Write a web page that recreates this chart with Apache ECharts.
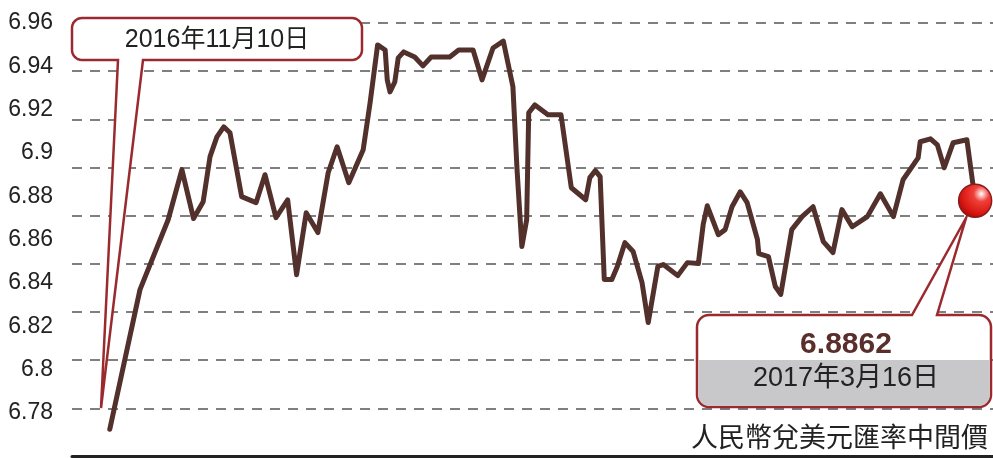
<!DOCTYPE html>
<html>
<head>
<meta charset="utf-8">
<script src="https://cdn.jsdelivr.net/npm/echarts@6/dist/echarts.min.js"></script>
<style>
  html, body { margin: 0; padding: 0; background: #fff; }
  #main { width: 993px; height: 458px; }
</style>
</head>
<body>
<div id="main"></div>
<script>
// 人民幣兌美元匯率中間價，2016-11-10 ~ 2017-03-16
// dayOffset: 距 2016-11-10 的日數
const dayOffset = [
  0, 4.4, 8.5, 10.5, 12.2, 13.6, 14.6, 15.6, 16.6, 17.5,
  19.2, 21.3, 22.6, 24.2, 25.9, 27.2, 28.6, 30.3, 31.8, 33.1,
  34.8, 36.9, 37.9, 39.0, 40.1, 40.4, 40.8, 41.5, 42.0, 42.8,
  44.4, 45.6, 46.8, 49.5, 50.8, 52.9, 54.2, 55.8, 57.3, 58.7,
  59.3, 60.0, 60.7, 61.0, 61.9, 63.8, 65.7, 67.2, 69.3, 69.9,
  70.7, 71.4, 72.0, 73.1, 73.9, 75.0, 76.2, 77.5, 78.4, 79.8,
  80.6, 82.7, 84.1, 85.7, 86.4, 87.0, 88.6, 89.6, 90.6, 91.8,
  92.8, 94.3, 94.5, 95.9, 96.9, 97.7, 99.3, 100.8, 102.4, 103.9,
  105.3, 106.6, 108.1, 110.3, 112.2, 114.1, 115.5, 117.7, 118.0, 119.5,
  120.5, 121.5, 122.8, 124.8, 126
];
const rates = [
  6.7913, 6.8493, 6.8783, 6.8991, 6.8788, 6.8858, 6.9045, 6.9127, 6.9169, 6.9144,
  6.8879, 6.8854, 6.8970, 6.8792, 6.8866, 6.8555, 6.8812, 6.8730, 6.8978, 6.9086,
  6.8937, 6.9074, 6.9268, 6.9509, 6.9488, 6.9364, 6.9314, 6.9355, 6.9455, 6.9480,
  6.9459, 6.9422, 6.9459, 6.9459, 6.9488, 6.9488, 6.9364, 6.9496, 6.9525, 6.9335,
  6.8991, 6.8672, 6.8783, 6.9227, 6.9260, 6.9219, 6.9219, 6.8916, 6.8866, 6.8958,
  6.8987, 6.8962, 6.8535, 6.8535, 6.8589, 6.8688, 6.8651, 6.8522, 6.8356, 6.8589,
  6.8597, 6.8551, 6.8605, 6.8601, 6.8763, 6.8841, 6.8721, 6.8742, 6.8837, 6.8899,
  6.8854, 6.8701, 6.8642, 6.8630, 6.8506, 6.8473, 6.8742, 6.8796, 6.8837, 6.8692,
  6.8647, 6.8825, 6.8754, 6.8796, 6.8891, 6.8796, 6.8949, 6.9040, 6.9107, 6.9119,
  6.9094, 6.8999, 6.9103, 6.9115, 6.8862
];
// 左側刻度文字（原圖刻度文字與格線間距不同）
const tickLabels = ['6.78', '6.8', '6.82', '6.84', '6.86', '6.88', '6.9', '6.92', '6.94', '6.96'];
const startLabel = '2016年11月10日';
const endLabel = '2017年3月16日';
const endValue = '6.8862';
const title = '人民幣兌美元匯率中間價';

const lineData = dayOffset.map(function (d, i) { return [d, rates[i]]; });
const last = lineData[lineData.length - 1];

// 圓角框 + 尖角，回傳多邊形頂點
function arc(cx, cy, r, a0, a1) {
  const pts = [];
  for (let k = 0; k <= 8; k++) {
    const a = (a0 + (a1 - a0) * k / 8) * Math.PI / 180;
    pts.push([cx + r * Math.cos(a), cy + r * Math.sin(a)]);
  }
  return pts;
}
function callout(x0, y0, x1, y1, r, tailTop, tailBottom) {
  let pts = [];
  pts.push([x0 + r, y0]);
  if (tailTop) pts = pts.concat(tailTop);
  pts = pts.concat(arc(x1 - r, y0 + r, r, -90, 0));
  pts = pts.concat(arc(x1 - r, y1 - r, r, 0, 90));
  if (tailBottom) pts = pts.concat(tailBottom);
  pts = pts.concat(arc(x0 + r, y1 - r, r, 90, 180));
  pts = pts.concat(arc(x0 + r, y0 + r, r, 180, 270));
  return pts;
}
function bottomPart(x0, yTop, x1, y1, r) {
  let pts = [[x0, yTop], [x1, yTop]];
  pts = pts.concat(arc(x1 - r, y1 - r, r, 0, 90));
  pts = pts.concat(arc(x0 + r, y1 - r, r, 90, 180));
  return pts;
}

const RED = '#9b2a2e';
const chart = echarts.init(document.getElementById('main'));

const option = {
  animation: false,
  grid: { left: 72, right: 0, top: 23, bottom: 1.5 },
  xAxis: {
    type: 'value',
    min: -5.5,
    max: 128.6,
    axisLine: { show: true, lineStyle: { color: '#222', width: 3 } },
    axisTick: { show: false },
    axisLabel: { show: false },
    splitLine: { show: false }
  },
  yAxis: [
    {
      // 真正的數值尺度與格線
      type: 'value',
      min: 6.78,
      max: 6.96,
      interval: 0.02,
      axisLine: { show: false },
      axisTick: { show: false },
      axisLabel: { show: false },
      splitLine: { lineStyle: { color: '#555', width: 1.5, type: [10, 8] } }
    },
    {
      // 只用來放刻度文字
      type: 'value',
      position: 'left',
      min: 6.76,
      max: 6.96,
      interval: 0.02,
      axisLine: { show: false },
      axisTick: { show: false },
      splitLine: { show: false },
      axisLabel: {
        margin: 19,
        fontSize: 23,
        color: '#222',
        fontFamily: 'Liberation Sans, Arial, sans-serif',
        formatter: function (v) {
          const s = tickLabels.find(function (t) { return Math.abs(parseFloat(t) - v) < 1e-6; });
          return s || '';
        }
      }
    }
  ],
  graphic: [
    {
      type: 'polygon',
      z: 1,
      shape: { points: callout(72, 18, 362, 60, 10, null, [[143, 60], [101, 408], [118, 60]]) },
      style: { fill: '#fff', stroke: RED, lineWidth: 2.5, lineJoin: 'miter' }
    },
    {
      type: 'text',
      z: 2,
      x: 217,
      y: 40,
      style: {
        text: startLabel,
        fill: '#222',
        fontSize: 25,
        fontFamily: 'Liberation Sans, Noto Sans CJK TC, sans-serif',
        align: 'center',
        verticalAlign: 'middle'
      }
    },
    {
      type: 'polygon',
      z: 1,
      shape: { points: callout(697, 315, 991, 407, 12, [[912, 315], [966, 218], [937, 315]], null) },
      style: { fill: '#fff', stroke: RED, lineWidth: 2.5 }
    },
    {
      type: 'polygon',
      z: 1,
      shape: { points: bottomPart(698.3, 360, 989.7, 405.7, 10.7) },
      style: { fill: '#c8c8ca' }
    },
    {
      type: 'text',
      z: 2,
      x: 846,
      y: 345,
      style: {
        text: endValue,
        fill: '#5a2e2a',
        fontSize: 30,
        fontWeight: 'bold',
        fontFamily: 'Liberation Sans, Arial, sans-serif',
        align: 'center',
        verticalAlign: 'middle'
      }
    },
    {
      type: 'text',
      z: 2,
      x: 846,
      y: 379,
      style: {
        text: endLabel,
        fill: '#222',
        fontSize: 27,
        fontFamily: 'Liberation Sans, Noto Sans CJK TC, sans-serif',
        align: 'center',
        verticalAlign: 'middle'
      }
    },
    {
      type: 'text',
      z: 2,
      right: 5,
      top: 423,
      style: {
        text: title,
        fill: '#222',
        fontSize: 27,
        fontFamily: 'Noto Sans CJK TC, sans-serif'
      }
    }
  ],
  series: [
    {
      type: 'line',
      z: 3,
      data: lineData,
      symbol: 'none',
      lineStyle: { color: '#52302b', width: 5, join: 'round', cap: 'round' },
      markPoint: {
        symbol: 'circle',
        symbolSize: 33,
        label: { show: false },
        itemStyle: {
          color: {
            type: 'radial', x: 0.68, y: 0.3, r: 0.75,
            colorStops: [
              { offset: 0, color: '#ffffff' },
              { offset: 0.3, color: '#f0403a' },
              { offset: 0.8, color: '#d6140f' },
              { offset: 1, color: '#a80d0b' }
            ]
          },
          borderColor: '#8c1a1a',
          borderWidth: 1.5
        },
        data: [{ coord: last }]
      }
    }
  ]
};

chart.setOption(option);
</script>
</body>
</html>
